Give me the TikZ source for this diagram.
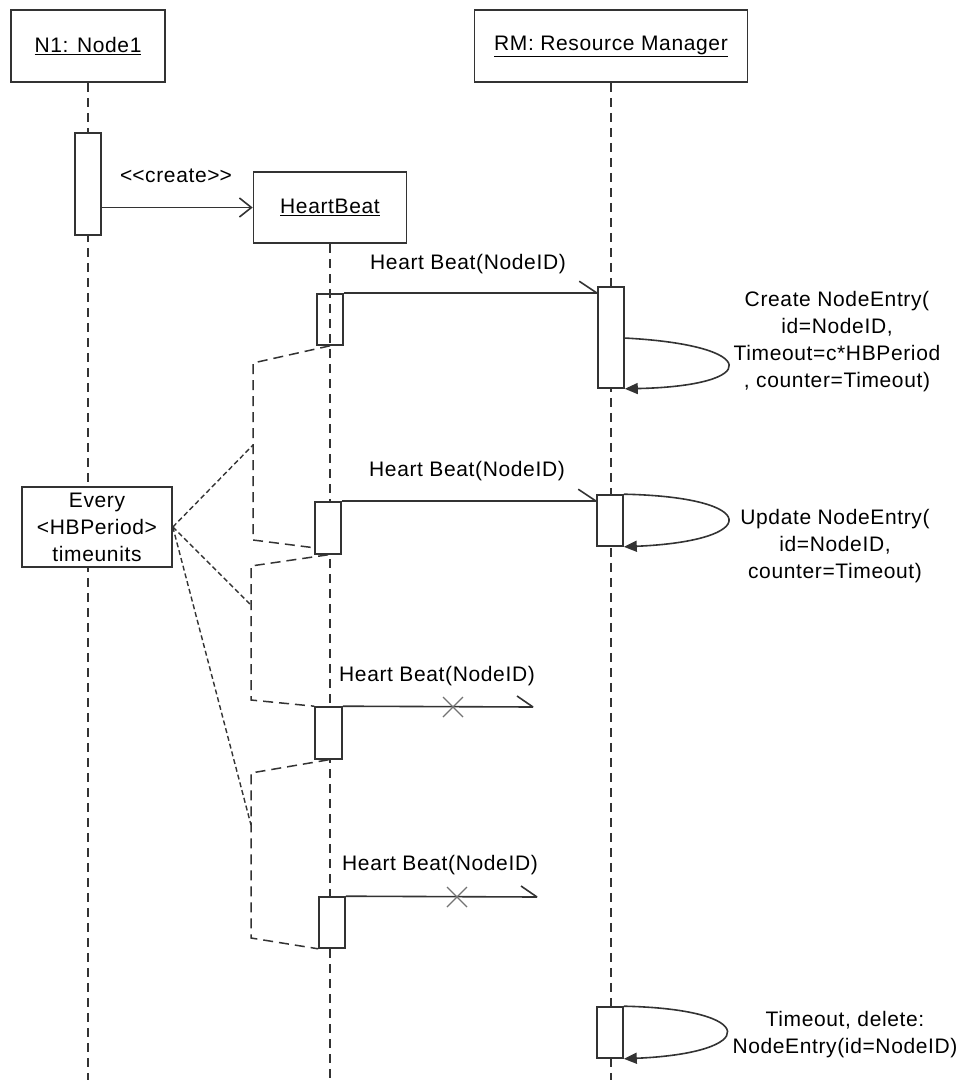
\documentclass[tikz,border=0pt]{standalone}
\usepackage{fontspec}
\setmainfont{Liberation Sans}[LetterSpace=3]
\usetikzlibrary{arrows.meta}
\definecolor{ln}{HTML}{333333}
\begin{document}
\begin{tikzpicture}[x=1pt,y=-1pt,
  font=\fontsize{21}{27}\selectfont,
  obj/.style={draw=ln, line width=1.6pt, fill=white, inner sep=0pt},
  act/.style={draw=ln, line width=1.6pt, fill=white, minimum width=26pt, inner sep=0pt},
  life/.style={draw=ln, line width=1.5pt, dash pattern=on 9pt off 6pt},
  msg/.style={draw=ln, line width=1.6pt},
  brk/.style={draw=ln, line width=1.5pt, dash pattern=on 10pt off 6pt},
  notel/.style={draw=ln, line width=1.4pt, dash pattern=on 5pt off 3pt},
  xmark/.style={draw=black!55, line width=1.3pt},
  lbl/.style={inner sep=0pt, align=center},
  selfmsg/.style={msg, -{Triangle[length=13pt,width=11pt]}},
  halfhead/.style={msg}]
\useasboundingbox (0,0) rectangle (964,1080);

% header objects
\node[obj, minimum width=154pt, minimum height=72pt] (n1) at (88,46) {\underline{N1: Node1}};
\node[obj, minimum width=273pt, minimum height=72pt] (rm) at (611,46) {\underline{RM: Resource Manager}};
\node[obj, minimum width=153pt, minimum height=71pt] (hb) at (330,207.5) {\underline{HeartBeat}};

% lifeline ends
\coordinate (n1end) at (88,1080);
\coordinate (rmend) at (611,1080);
\coordinate (hbend) at (330,1080);
\draw[life] (n1.south) -- (n1end);
\draw[life] (rm.south) -- (rmend);
\draw[life] (hb.south) -- (hbend);

% activations
\node[act, minimum height=102pt] (a0) at (88,184) {};
\node[act, fill=none, minimum height=51pt] (h1) at (330,319.5) {};
\node[act, minimum height=52pt] (h2) at (328,528) {};
\node[act, minimum height=52pt, minimum width=27pt] (h3) at (328.5,733) {};
\node[act, minimum height=51pt] (h4) at (332,922.5) {};
\node[act, minimum height=101pt] (r1) at (611,337.5) {};
\node[act, minimum height=51pt] (r2) at (610,520.5) {};
\node[act, minimum height=51pt] (r3) at (610,1032.5) {};

% note
\node[obj, minimum width=150pt, minimum height=80pt, align=center] (note) at (97,527) {Every\\<HBPeriod>\\timeunits};

% create message
\draw[msg, -{Straight Barb[length=12pt,width=19pt]}] (a0.east |- hb.west) -- (hb.west);
\node[lbl] (lcreate) at (176,176) {<\kern0pt<create>\kern0pt>};

% heartbeat 1
\draw[msg] (h1.north east) -- (h1.north east -| r1.west) coordinate (m1e);
\draw[halfhead] (m1e) -- ++(-18,-12);
\node[lbl] (l1) at (468,264) {Heart Beat(NodeID)};

% heartbeat 2
\draw[msg] (h2.north east) -- (h2.north east -| r2.west) coordinate (m2e);
\draw[halfhead] (m2e) -- ++(-18,-12);
\node[lbl] (l2) at (467,471) {Heart Beat(NodeID)};

% heartbeat 3 (lost)
\coordinate (m3e) at (533,707);
\coordinate (x3) at (453,707);
\draw[msg] (h3.north east) -- (m3e);
\draw[halfhead] (m3e) -- ++(-16,-11);
\draw[xmark] (x3) +(-10,-10) -- +(10,10) (x3) +(-10,10) -- +(10,-10);
\node[lbl] (l3) at (437,676) {Heart Beat(NodeID)};

% heartbeat 4 (lost)
\coordinate (m4e) at (537,897);
\coordinate (x4) at (457,897);
\draw[msg] (h4.north east) -- (m4e);
\draw[halfhead] (m4e) -- ++(-16,-11);
\draw[xmark] (x4) +(-10,-10) -- +(10,10) (x4) +(-10,10) -- +(10,-10);
\node[lbl] (l4) at (440,865) {Heart Beat(NodeID)};

% self messages
\coordinate (s1) at (624,338);
\draw[selfmsg] (s1) .. controls (762,345) and (762,386) .. (r1.south east);
\node[lbl] (t1) at (837,342) {Create NodeEntry(\\id=NodeID,\\Timeout=c*HBPeriod\\, counter=Timeout)};

\draw[selfmsg] (r2.north east) .. controls (762,497) and (762,541) .. (r2.south east);
\node[lbl] (t2) at (835,546) {Update NodeEntry(\\id=NodeID,\\counter=Timeout)};

\draw[selfmsg] (r3.north east) .. controls (760,1009) and (760,1053) .. (r3.south east);
\node[lbl] (t3) at (845,1035) {Timeout, delete:\\NodeEntry(id=NodeID)};

% period brackets
\coordinate (b1a) at (253,363);
\coordinate (b1b) at (253,540);
\coordinate (b1c) at (316,548);
\draw[brk] (h1.south) -- (b1a) -- (b1b) -- (b1c);
\coordinate (b2a) at (251,566);
\coordinate (b2b) at (251,700);
\draw[brk] (h2.south) -- (b2a) -- (b2b) -- (h3.north west);
\coordinate (b3a) at (251,773);
\coordinate (b3b) at (251,938);
\draw[brk] (h3.south) -- (b3a) -- (b3b) -- (h4.south west);

% note connectors
\coordinate (p1) at (253,445);
\coordinate (p2) at (251,605);
\coordinate (p3) at (251,825);
\draw[notel] (note.east) -- (p1);
\draw[notel] (note.east) -- (p2);
\draw[notel] (note.east) -- (p3);
\end{tikzpicture}
\end{document}
